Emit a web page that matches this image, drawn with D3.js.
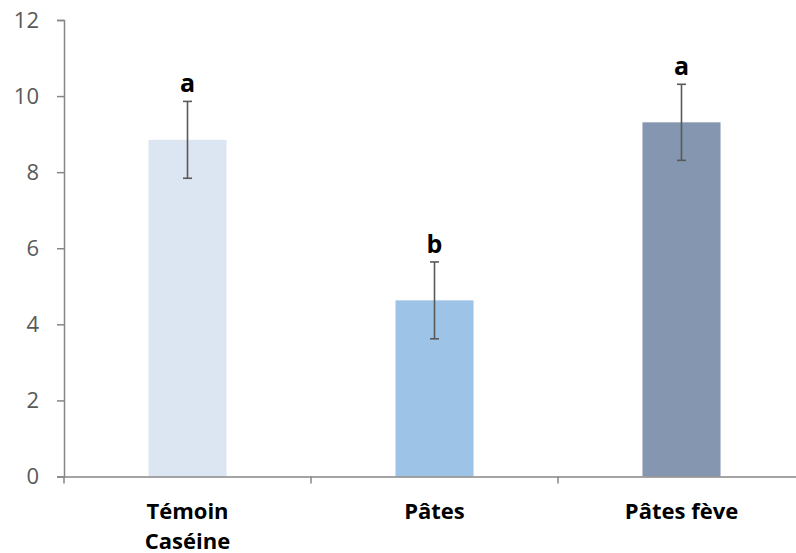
<!DOCTYPE html>
<html>
<head>
<meta charset="utf-8">
<script src="https://cdn.jsdelivr.net/npm/d3@7"></script>
<style>
  body { margin: 0; background: #fff; }
</style>
</head>
<body>
<div id="chart"></div>
<script>
const width = 796;
const height = 553;

const categories = [["Témoin", "Caséine"], ["Pâtes"], ["Pâtes fève"]];
const values = [8.85, 4.63, 9.31];
const errors = [1.01, 1.01, 1.0];
const letters = ["a", "b", "a"];
const colors = ["#dce6f2", "#9dc3e6", "#8496b0"];
const yTicks = [0, 2, 4, 6, 8, 10, 12];

const margin = {left: 64, top: 20, bottom: 76};
const font = "'Open Sans', 'Liberation Sans', sans-serif";

const svg = d3.select("#chart")
  .append("svg")
  .attr("width", width)
  .attr("height", height);

// scales
const x = d3.scaleBand()
  .domain(d3.range(categories.length))
  .range([margin.left, margin.left + 247 * 3])
  .padding(0);

const y = d3.scaleLinear()
  .domain([0, 12])
  .range([height - margin.bottom - 0.5, margin.top]);

const barW = x.bandwidth() * 0.316;

// y axis
const yAxis = svg.append("g")
  .attr("transform", `translate(${margin.left},0)`)
  .call(d3.axisLeft(y).tickValues(yTicks).tickSize(7).tickPadding(18).tickSizeOuter(7));
yAxis.selectAll("line, path").attr("stroke", "#868686").attr("stroke-width", 1.5);
yAxis.selectAll("text")
  .attr("fill", "#595959")
  .style("font-family", font)
  .style("font-size", "22px");

// bars
svg.selectAll(".bar")
  .data(values)
  .enter()
  .append("rect")
    .attr("class", "bar")
    .attr("x", (d, i) => x(i) + (x.bandwidth() - barW) / 2)
    .attr("y", d => y(d))
    .attr("width", barW)
    .attr("height", d => y(0) - y(d))
    .attr("fill", (d, i) => colors[i]);

// x axis
const xAxis = svg.append("g")
  .attr("transform", `translate(0,${y(0)})`)
  .call(d3.axisBottom(x).tickValues([]).tickSizeOuter(0));
xAxis.select("path").attr("stroke", "#868686").attr("stroke-width", 1.5);
xAxis.selectAll(".sep")
  .data(d3.range(categories.length))
  .enter()
  .append("line")
    .attr("x1", i => x(i))
    .attr("x2", i => x(i))
    .attr("y1", 0)
    .attr("y2", 7)
    .attr("stroke", "#868686")
    .attr("stroke-width", 1.5);

// category labels
svg.selectAll(".cat")
  .data(categories)
  .enter()
  .append("text")
    .attr("class", "cat")
    .attr("text-anchor", "middle")
    .attr("font-family", font)
    .attr("font-weight", "bold")
    .attr("font-size", 22)
    .attr("fill", "#000")
    .each(function(d, i) {
      d3.select(this).selectAll("tspan")
        .data(d)
        .enter()
        .append("tspan")
          .attr("x", x(i) + x.bandwidth() / 2)
          .attr("y", (t, j) => y(0) + 42 + j * 30)
          .text(t => t);
    });

// error bars
const err = svg.selectAll(".err")
  .data(values)
  .enter()
  .append("g")
    .attr("class", "err")
    .attr("stroke", "#595959")
    .attr("stroke-width", 1.6);
const cx = i => x(i) + x.bandwidth() / 2;
err.append("line")
  .attr("x1", (d, i) => cx(i)).attr("x2", (d, i) => cx(i))
  .attr("y1", (d, i) => y(d + errors[i])).attr("y2", (d, i) => y(d - errors[i]));
err.append("line")
  .attr("x1", (d, i) => cx(i) - 4.5).attr("x2", (d, i) => cx(i) + 4.5)
  .attr("y1", (d, i) => y(d + errors[i])).attr("y2", (d, i) => y(d + errors[i]));
err.append("line")
  .attr("x1", (d, i) => cx(i) - 4.5).attr("x2", (d, i) => cx(i) + 4.5)
  .attr("y1", (d, i) => y(d - errors[i])).attr("y2", (d, i) => y(d - errors[i]));

// significance letters
svg.selectAll(".letter")
  .data(values)
  .enter()
  .append("text")
    .attr("class", "letter")
    .attr("x", (d, i) => cx(i))
    .attr("y", (d, i) => y(d + errors[i]) - 9)
    .attr("text-anchor", "middle")
    .attr("font-family", font)
    .attr("font-weight", "bold")
    .attr("font-size", 25)
    .attr("fill", "#000")
    .text((d, i) => letters[i]);
</script>
</body>
</html>
